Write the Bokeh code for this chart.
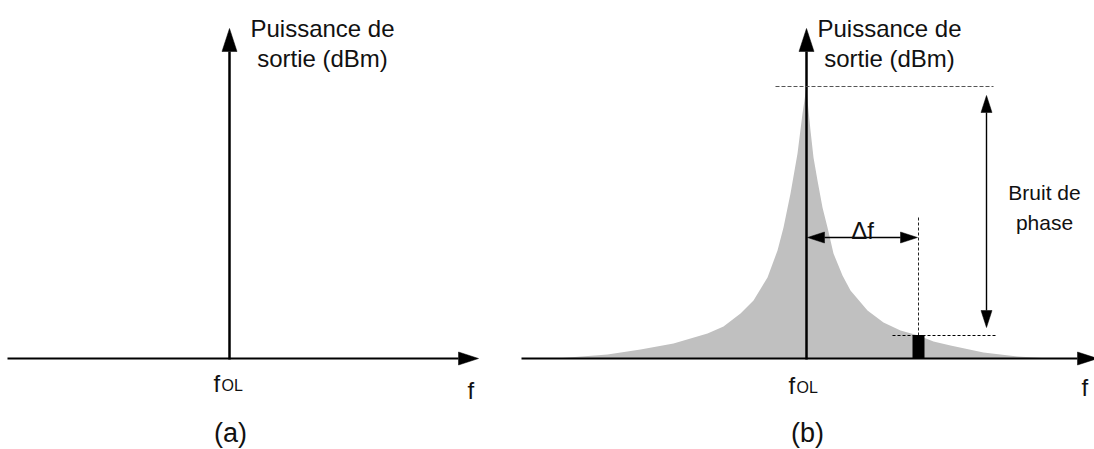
import math

from bokeh.core.properties import value
from bokeh.embed import file_html
from bokeh.models import Range1d
from bokeh.plotting import figure
from bokeh.resources import INLINE

# ---------------------------------------------------------------------------
# Diagram values (frequency offset from f_OL, power level above the floor)
# ---------------------------------------------------------------------------
noise_offset = [-251, -199, -166, -133, -99, -83, -66, -53, -39, -29, -23,
                -16, -9, -4, 0, 1, 4, 7, 11, 16, 21, 27, 36, 44, 61, 77, 94,
                112, 127, 144, 177, 211, 244]
noise_level = [0, 4, 9, 15, 25, 32, 45, 58, 81, 108, 131,
               165, 205, 245, 272, 258, 228, 201, 178, 151, 131, 105, 83, 68,
               48, 36, 28, 23, 17, 13, 6, 2, 0]

carrier_level = 272      # carrier peak power
delta_f = 112            # offset at which the noise is read
noise_at_delta = 23      # noise level at that offset
bin_width = 11           # measurement bandwidth around delta_f

axis_label = ["Puissance de", "sortie (dBm)"]
noise_label = ["Bruit de", "phase"]
panel_labels = ["(a)", "(b)"]

# ---------------------------------------------------------------------------
# Layout
# ---------------------------------------------------------------------------
W, H = 1094, 449
FLOOR_PX = 358                       # screen row of the frequency axis
ORIGIN_A = 229                       # carrier position, panel (a)
ORIGIN_B = 806                       # carrier position, panel (b)
FONT = value("Liberation Sans")

p = figure(width=W, height=H, x_range=Range1d(0, W),
           y_range=Range1d(FLOOR_PX - H, FLOOR_PX),
           output_backend="svg", toolbar_location=None, min_border=0)
p.axis.visible = False
p.grid.visible = False
p.outline_line_color = None
p.background_fill_color = "white"
p.border_fill_color = "white"


def up(y_screen):
    """Screen row -> plot y."""
    return FLOOR_PX - y_screen


def head(x1, y1, ux, uy, length, width, color="black"):
    bx, by = x1 - ux * length, y1 - uy * length
    nx, ny = -uy, ux
    p.patch([x1, bx + nx * width / 2, bx - nx * width / 2],
            [y1, by + ny * width / 2, by - ny * width / 2],
            color=color, line_width=0.5)
    return bx, by


def arrow(x0, y0, x1, y1, lw, length, width, both=False, color="black"):
    dx, dy = x1 - x0, y1 - y0
    n = math.hypot(dx, dy)
    ux, uy = dx / n, dy / n
    bx, by = head(x1, y1, ux, uy, length, width, color)
    sx, sy = x0, y0
    if both:
        sx, sy = head(x0, y0, -ux, -uy, length, width, color)
    p.line([sx, bx], [sy, by], line_width=lw, color=color)


def label(x, y, text, size, align="center", baseline="alphabetic"):
    p.text(x=[x], y=[y], text=[text], text_font=FONT,
           text_font_size=f"{size}px", text_align=align,
           text_baseline=baseline, text_color="#111111")


def f_sub(x, y_screen):
    """Frequency symbol f with subscript OL."""
    label(x, up(y_screen), "f", 24, align="left")
    label(x + 8, up(y_screen + 2), "OL", 16, align="left")


# ---------------------------------------------------------------------------
# Panel (a): ideal oscillator, single line at f_OL
# ---------------------------------------------------------------------------
arrow(7, 0, 478, 0, 2.2, 20, 13)
arrow(ORIGIN_A, -1, ORIGIN_A, up(28), 2.5, 23, 15)
label(322, up(28), axis_label[0], 24)
label(322, up(58), axis_label[1], 24)
f_sub(213, 383)
label(467, up(390), "f", 24, align="left")
label(230, up(432), panel_labels[0], 27, baseline="middle")

# ---------------------------------------------------------------------------
# Panel (b): real oscillator with phase-noise skirt
# ---------------------------------------------------------------------------
p.patch([ORIGIN_B + o for o in noise_offset], noise_level,
        fill_color="#c0c0c0", line_color=None)

arrow(521, 0, 1097, 0, 2.2, 20, 13)
arrow(ORIGIN_B, -1, ORIGIN_B, up(28), 2.5, 23, 15)

# carrier reference and noise reference (dashed)
p.line([ORIGIN_B - 31, ORIGIN_B + 187], [carrier_level, carrier_level],
       line_color="#555555", line_width=1, line_dash="4 2")
p.line([ORIGIN_B + 86, ORIGIN_B + 190], [noise_at_delta, noise_at_delta],
       line_color="black", line_width=1, line_dash="3 2")
p.line([ORIGIN_B + delta_f, ORIGIN_B + delta_f], [noise_at_delta, up(215)],
       line_color="#222222", line_width=1, line_dash="3 2")

# noise sample in the measurement bandwidth
p.quad(left=[ORIGIN_B + delta_f - bin_width / 2],
       right=[ORIGIN_B + delta_f + bin_width / 2],
       bottom=[0], top=[noise_at_delta], color="black")

# delta-f span
arrow(ORIGIN_B + 1, up(237), ORIGIN_B + delta_f - 1, up(237), 1.4, 17, 11,
      both=True)
label(ORIGIN_B + 56, up(230), "Δf", 24)

# phase-noise span between carrier and noise level
arrow(986, carrier_level - 9, 986, noise_at_delta + 8, 1.4, 17, 11, both=True)
label(1044, up(192), noise_label[0], 21)
label(1044, up(222), noise_label[1], 21)

label(889, up(28), axis_label[0], 24)
label(889, up(58), axis_label[1], 24)
f_sub(788, 385)
label(1081, up(387), "f", 24, align="left")
label(807, up(432), panel_labels[1], 27, baseline="middle")

open("out.html", "w").write(file_html(p, INLINE))
